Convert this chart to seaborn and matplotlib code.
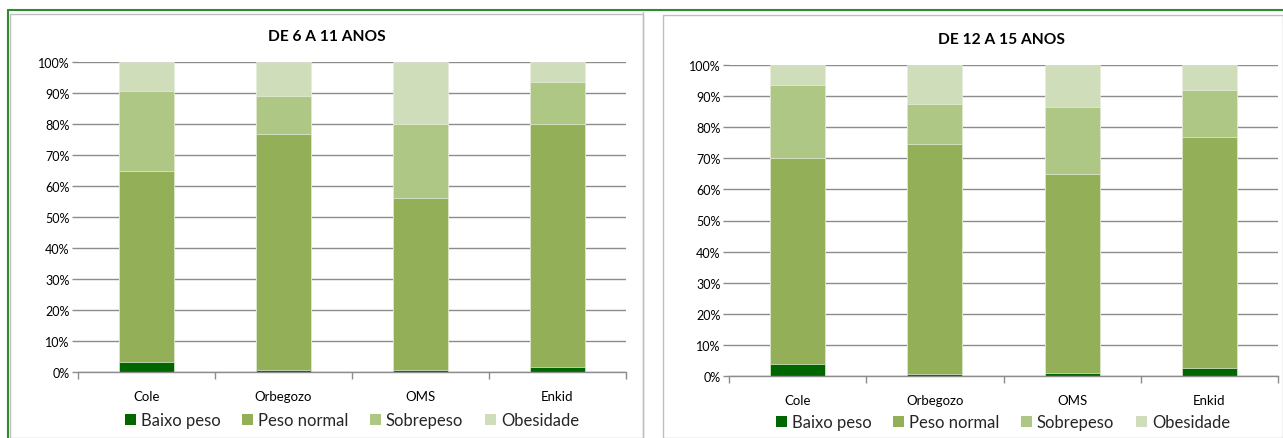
import numpy as np
import pandas as pd
import matplotlib
matplotlib.use("Agg")
import matplotlib.pyplot as plt
import seaborn as sns
from matplotlib.lines import Line2D
from matplotlib.patches import Rectangle

categories = ["Cole", "Orbegozo", "OMS", "Enkid"]
series_names = ["Baixo peso", "Peso normal", "Sobrepeso", "Obesidade"]
colors = ["#006600", "#93B058", "#AFC785", "#D0DDBB"]

# panel 1: DE 6 A 11 ANOS (percent)
baixo_6_11 = [3.2, 0.5, 0.6, 1.5]
normal_6_11 = [61.7, 76.4, 55.6, 78.5]
sobre_6_11 = [25.8, 12.2, 23.7, 13.7]
obes_6_11 = [9.3, 10.9, 20.1, 6.3]

# panel 2: DE 12 A 15 ANOS (percent)
baixo_12_15 = [3.8, 0.5, 1.1, 2.6]
normal_12_15 = [66.3, 74.0, 64.0, 74.4]
sobre_12_15 = [23.5, 12.9, 21.5, 15.1]
obes_12_15 = [6.4, 12.6, 13.4, 7.9]

titles = ["DE 6 A 11 ANOS", "DE 12 A 15 ANOS"]
yticks = [0, 10, 20, 30, 40, 50, 60, 70, 80, 90, 100]
ytick_labels = [f"{v}%" for v in yticks]

sns.set_theme(style="white")
plt.rcParams['font.family'] = ['Lato', 'DejaVu Sans']

fig = plt.figure(figsize=(12.83, 4.39), dpi=100)

# decorative frames
W, H = 1283, 439
def fx(x): return x / W
def fy(y): return 1 - y / H
fig.add_artist(Line2D([fx(8), fx(1283)], [fy(11), fy(11)], color="#2E8B2E", lw=1.5))
fig.add_artist(Line2D([fx(8), fx(8)], [fy(11), fy(439)], color="#2E8B2E", lw=1.5))
fig.add_artist(Line2D([fx(643), fx(643)], [fy(13), fy(439)], color="#BFBFBF", lw=1.0))
fig.add_artist(Rectangle((fx(10), fy(439)), fx(643) - fx(10), fy(15) - fy(439),
                         fill=False, edgecolor="#BFBFBF", lw=1.0))
fig.add_artist(Rectangle((fx(663), fy(439)), fx(1283) - fx(663), fy(16) - fy(439),
                         fill=False, edgecolor="#BFBFBF", lw=1.0))

axes_pos = [
    [78 / W, 1 - 373 / H, (626 - 78) / W, (373 - 63) / H],
    [729 / W, 1 - 377 / H, (1278 - 729) / W, (377 - 66) / H],
]
title_pos = [(327, 37), (1001, 40)]
legend_pos = [(352, 421), (1003, 423)]

datasets = [
    [baixo_6_11, normal_6_11, sobre_6_11, obes_6_11],
    [baixo_12_15, normal_12_15, sobre_12_15, obes_12_15],
]

for i, data in enumerate(datasets):
    ax = fig.add_axes(axes_pos[i])
    arr = np.array(data)
    cum = np.cumsum(arr, axis=0)
    # draw from top cumulative down so lower segments overlay
    for k in range(3, -1, -1):
        df = pd.DataFrame({"cat": categories, "val": cum[k]})
        sns.barplot(data=df, x="cat", y="val", color=colors[k], width=0.4,
                    saturation=1, ax=ax, edgecolor="#E8EEDC", linewidth=0.5)
    ax.set_xlim(-0.5, 3.5)
    ax.set_ylim(0, 100)
    ax.set_yticks(yticks)
    ax.set_yticklabels(ytick_labels, fontsize=9)
    ax.set_xlabel("")
    ax.set_ylabel("")
    ax.yaxis.grid(True, color="#8C8C8C", lw=1.0)
    ax.set_axisbelow(True)
    for s in ["top", "right"]:
        ax.spines[s].set_visible(False)
    ax.spines["left"].set_visible(False)
    ax.spines["bottom"].set_color("#8C8C8C")
    ax.spines["bottom"].set_linewidth(1.0)
    ax.tick_params(axis="y", which="major", left=True, length=4, width=1.0,
                   color="#8C8C8C", pad=2, labelcolor="black")
    ax.set_xticks(range(4))
    ax.set_xticklabels(categories, fontsize=9.5)
    ax.set_xticks([-0.5, 0.5, 1.5, 2.5, 3.5], minor=True)
    ax.tick_params(axis="x", which="major", bottom=False, pad=7, labelcolor="black")
    ax.tick_params(axis="x", which="minor", bottom=True, length=5, width=1.0,
                   color="#8C8C8C")
    ax.set_facecolor("white")

    tx, ty = title_pos[i]
    fig.text(fx(tx), fy(ty), titles[i], ha="center", va="center",
             fontsize=11.2, fontweight="bold", color="black")

    handles = [Rectangle((0, 0), 1, 1, facecolor=c, edgecolor="none") for c in colors]
    lx, ly = legend_pos[i]
    fig.legend(handles, series_names, loc="center", bbox_to_anchor=(fx(lx), fy(ly)),
               ncol=4, frameon=False, fontsize=12, handlelength=0.65,
               handleheight=0.65, handletextpad=0.3, columnspacing=1.3)

fig.savefig("out.png", dpi=100, facecolor="white")
